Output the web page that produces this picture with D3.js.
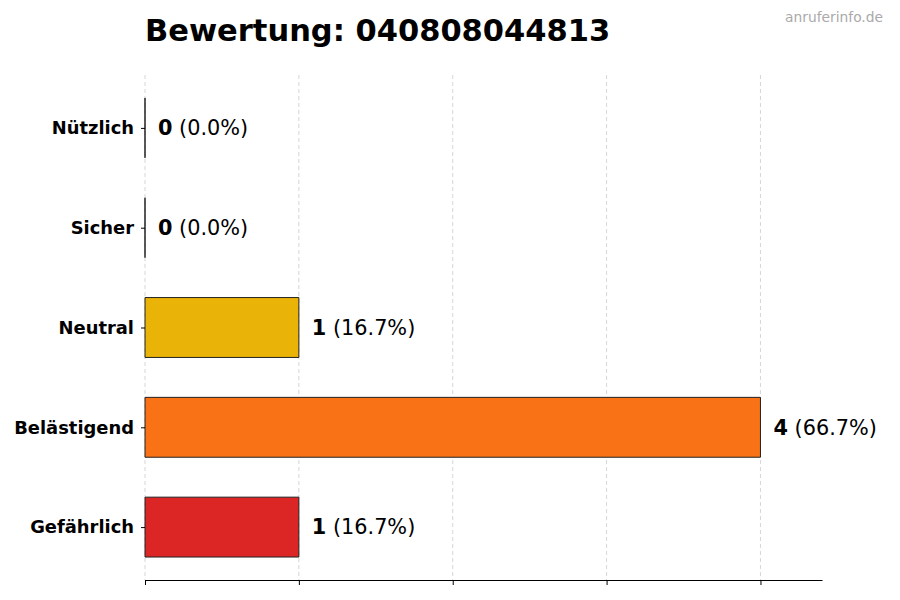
<!DOCTYPE html>
<html>
<head>
<meta charset="utf-8">
<script src="https://cdn.jsdelivr.net/npm/d3@7"></script>
<style>
  body { margin: 0; background: #fff; }
  svg { font-family: "DejaVu Sans", sans-serif; }
</style>
</head>
<body>
<div id="chart"></div>
<script>
// chart data
const categories = ["Gefährlich", "Belästigend", "Neutral", "Sicher", "Nützlich"];
const counts = [1, 4, 1, 0, 0];
const percents = ["16.7%", "66.7%", "16.7%", "0.0%", "0.0%"];
const colors = ["#DC2626", "#F97316", "#EAB308", "#3B82F6", "#22C55E"];
const xTicks = [0, 1, 2, 3, 4];

let margin = {top: 75, right: 78, bottom: 20, left: 145};
let width = 900 - margin.left - margin.right;
let height = 600 - margin.top - margin.bottom;

let svg = d3.select("#chart").append("svg")
    .attr("width", 900)
    .attr("height", 600)
    .append("g")
    .attr("transform", `translate(${margin.left}, ${margin.top})`);

// scales
let x = d3.scaleLinear()
    .domain([0, d3.max(counts) * 1.1])
    .range([0, width]);

let y = d3.scaleLinear()
    .domain([-0.53, categories.length - 1 + 0.53])
    .range([height, 0]);

let barH = (y(0) - y(0.6));

// grid
svg.selectAll("line.grid")
    .data(xTicks)
    .enter()
    .append("line")
    .attr("class", "grid")
    .attr("x1", d => x(d))
    .attr("x2", d => x(d))
    .attr("y1", 0)
    .attr("y2", height)
    .style("stroke", "#cccccc")
    .style("stroke-width", 0.8)
    .style("stroke-dasharray", "4,3");

// bars (as paths so that zero-width bars still show their edge)
svg.selectAll("path.bar")
    .data(categories)
    .enter()
    .append("path")
    .attr("class", "bar")
    .attr("d", (d, i) => {
        let x0 = x(0), x1 = x(counts[i]);
        let y0 = y(i) - barH / 2, y1 = y(i) + barH / 2;
        return `M${x0},${y0}H${x1}V${y1}H${x0}Z`;
    })
    .style("fill", (d, i) => colors[i])
    .style("stroke", "#222")
    .style("stroke-width", 1);

// value labels
let labels = svg.selectAll("text.val")
    .data(categories)
    .enter()
    .append("text")
    .attr("class", "val")
    .attr("x", (d, i) => x(counts[i]) + 13)
    .attr("y", (d, i) => y(i))
    .attr("dy", "0.35em")
    .style("font-size", "20.8px")
    .style("fill", "#000");

labels.append("tspan")
    .style("font-weight", "bold")
    .text((d, i) => counts[i]);

labels.append("tspan")
    .text((d, i) => " (" + percents[i] + ")");

// axes
let xAxis = d3.axisBottom(x)
    .tickValues(xTicks)
    .tickFormat("")
    .tickSizeInner(5)
    .tickSizeOuter(0);

svg.append("g")
    .attr("class", "x-axis")
    .attr("transform", `translate(0, ${height})`)
    .call(xAxis)
    .call(g => g.select(".domain").style("stroke", "#000").style("stroke-width", 1.1));

let yAxis = d3.axisLeft(y)
    .tickValues(d3.range(categories.length))
    .tickFormat(i => categories[i])
    .tickSizeInner(4)
    .tickSizeOuter(0)
    .tickPadding(7);

svg.append("g")
    .attr("class", "y-axis")
    .call(yAxis)
    .call(g => g.select(".domain").remove())
    .call(g => g.selectAll("text")
        .style("font-family", "DejaVu Sans, sans-serif")
        .style("font-size", "17.9px")
        .style("font-weight", "bold")
        .style("fill", "#000"));

// title
svg.append("text")
    .attr("x", 0)
    .attr("y", -34)
    .style("font-size", "30.5px")
    .style("font-weight", "bold")
    .style("fill", "#000")
    .text("Bewertung: 040808044813");

// watermark
svg.append("text")
    .attr("x", 883 - margin.left)
    .attr("y", 22 - margin.top)
    .attr("text-anchor", "end")
    .style("font-size", "13.8px")
    .style("fill", "#aaaaaa")
    .text("anruferinfo.de");
</script>
</body>
</html>
